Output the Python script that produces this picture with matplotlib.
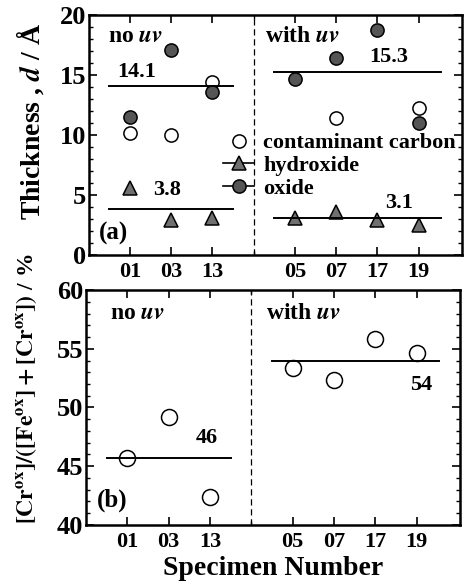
import matplotlib
matplotlib.use("Agg")
import matplotlib.pyplot as plt
from matplotlib.lines import Line2D
from matplotlib.ticker import MultipleLocator

plt.rcParams["font.family"] = ["Liberation Serif", "DejaVu Serif"]
plt.rcParams["font.weight"] = "bold"
plt.rcParams["mathtext.fontset"] = "stix"

# specimen order on the x axis (position 4 is the no uv / with uv divider)
specimens = ["01", "03", "13", "05", "07", "17", "19"]
pos = [1, 2, 3, 5, 6, 7, 8]

# (a) thickness, Å
carbon_pos = [1, 2, 3, 6, 8]
carbon = [10.2, 10.0, 14.4, 11.4, 12.3]
hydroxide = [5.6, 2.9, 3.1, 3.1, 3.6, 2.9, 2.5]
oxide = [11.5, 17.1, 13.6, 14.7, 16.4, 18.8, 11.0]
oxide_mean = [14.1, 15.3]
hydroxide_mean = [3.8, 3.1]

# (b) Cr fraction, %
cr_frac = [45.7, 49.2, 42.4, 53.4, 52.3, 55.8, 54.6]
cr_mean = [46, 54]

CARBON = dict(marker="o", ms=9.5, mfc="white", mec="black", mew=1.1)
HYDROX = dict(marker="^", ms=9.5, mfc="#707070", mec="black", mew=1.1)
OXIDE = dict(marker="o", ms=9.5, mfc="#555555", mec="black", mew=1.1)

fig = plt.figure(figsize=(4.67, 5.85), dpi=100)
ax1 = fig.add_axes([0.19, 0.564, 0.799, 0.410])
ax2 = fig.add_axes([0.184, 0.103, 0.801, 0.401])

seg_no = (0.5, 3.5)
seg_uv = (4.5, 8.55)


def _frame(ax):
    ax.set_xlim(0, 9.05)
    ax.set_xticks(pos)
    ax.set_xticklabels(specimens, fontsize=16, fontweight="bold")
    ax.set_xticks([4], minor=True)
    ax.yaxis.set_major_locator(MultipleLocator(5))
    ax.yaxis.set_minor_locator(MultipleLocator(1))
    ax.tick_params(which="both", direction="in", top=True, right=True)
    ax.tick_params(which="major", length=6, width=1.2)
    ax.tick_params(which="minor", length=3, width=1)
    ax.tick_params(axis="y", labelsize=19, pad=2)
    ax.tick_params(axis="x", pad=5)
    for s in ax.spines.values():
        s.set_linewidth(1.8)
    ax.axvline(4, color="black", lw=0.9, ls=(0, (5, 3)))


def _txt(ax, x, y, s, size=16):
    ax.text(x, y, s, fontsize=size, fontweight="bold", va="center")


# ---- (a)
_frame(ax1)
ax1.set_ylim(0, 20)

ax1.plot(carbon_pos, carbon, ls="none", **CARBON)
ax1.plot(pos, hydroxide, ls="none", **HYDROX)
ax1.plot(pos, oxide, ls="none", **OXIDE)
for (x0, x1), m in zip([seg_no, seg_uv], oxide_mean):
    ax1.plot([x0, x1], [m, m], color="black", lw=1.4)
for (x0, x1), m in zip([seg_no, seg_uv], hydroxide_mean):
    ax1.plot([x0, x1], [m, m], color="black", lw=1.4)
_txt(ax1, 0.7, 15.3, f"{oxide_mean[0]}")
_txt(ax1, 1.55, 5.4, f"{hydroxide_mean[0]}")
_txt(ax1, 6.8, 16.5, f"{oxide_mean[1]}")
_txt(ax1, 7.2, 4.3, f"{hydroxide_mean[1]}")
_txt(ax1, 0.46, 18.2, "no $\\mathit{uv}$", 17)
_txt(ax1, 4.27, 18.2, "with $\\mathit{uv}$", 17)
_txt(ax1, 0.25, 1.8, "(a)", 18)

handles = [
    Line2D([], [], ls="none", **CARBON),
    Line2D([], [], ls="-", color="black", lw=1.2, **HYDROX),
    Line2D([], [], ls="-", color="black", lw=1.2, **OXIDE),
]
ax1.legend(handles, ["contaminant carbon", "hydroxide", "oxide"],
           loc="upper left", bbox_to_anchor=(0.36, 0.51), frameon=False,
           handlelength=1.4, handletextpad=0.4, labelspacing=0.1,
           borderpad=0, borderaxespad=0, prop={"weight": "bold", "size": 16})
fig.text(0.064, 0.793, "Thickness , $\\mathit{d}$ / Å", rotation=90,
         fontsize=20, fontweight="bold", ha="center", va="center")

# ---- (b)
_frame(ax2)
ax2.set_ylim(40, 60)
ax2.plot(pos, cr_frac, ls="none", marker="o", ms=11.5, mfc="white", mec="black",
         mew=1.1)
for (x0, x1), m in zip([seg_no, seg_uv], [45.7, 54.0]):
    ax2.plot([x0, x1], [m, m], color="black", lw=1.4)
_txt(ax2, 2.65, 47.4, f"{cr_mean[0]}")
_txt(ax2, 7.85, 51.9, f"{cr_mean[1]}")
_txt(ax2, 0.58, 58.0, "no $\\mathit{uv}$", 17)
_txt(ax2, 4.35, 58.0, "with $\\mathit{uv}$", 17)
_txt(ax2, 0.27, 42.1, "(b)", 18)
ax2.set_xlabel("Specimen Number", fontsize=20, fontweight="bold", labelpad=3)

fig.text(0.057, 0.105,
         r"$\mathbf{[Cr^{ox}]/([Fe^{ox}]+[Cr^{ox}])}$ / %",
         rotation=90, fontsize=17, fontweight="bold", ha="center", va="bottom")

fig.savefig("out.png", dpi=100)
